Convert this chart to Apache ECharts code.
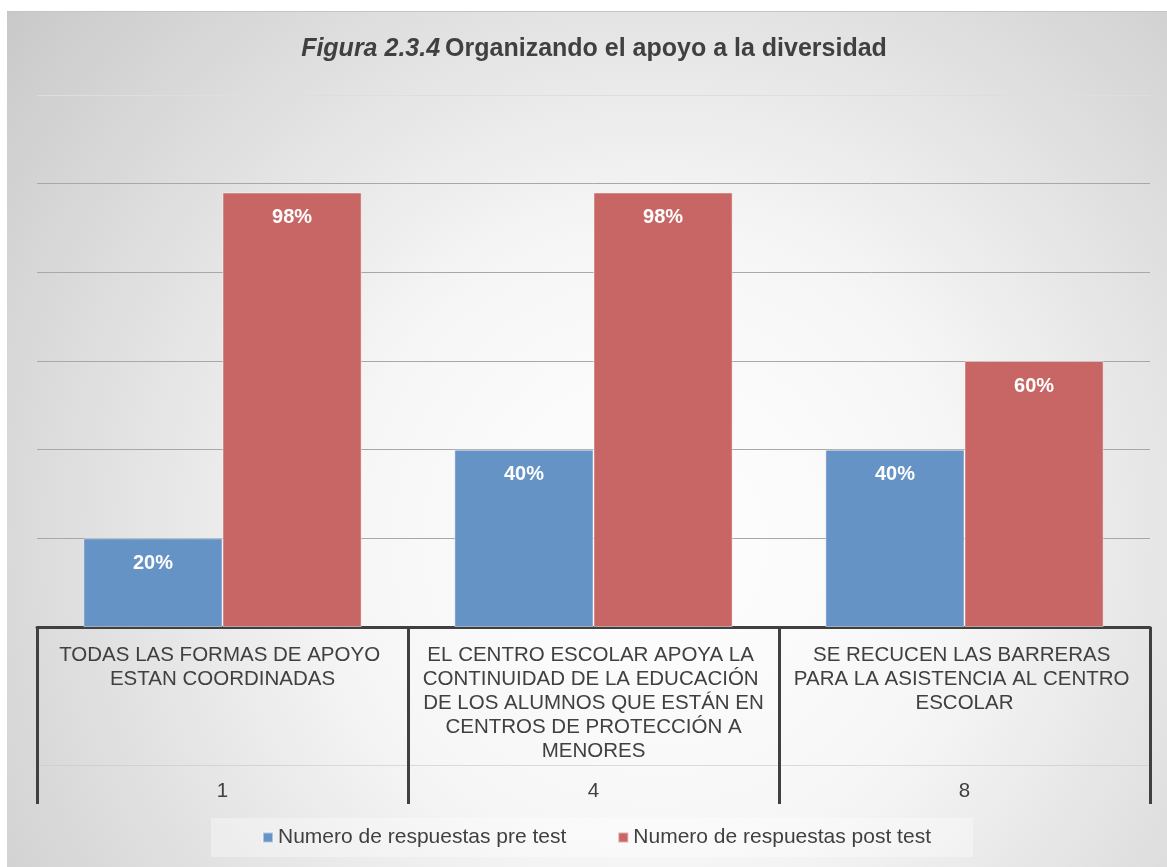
<!DOCTYPE html>
<html>
<head>
<meta charset="utf-8">
<script src="https://cdn.jsdelivr.net/npm/echarts@6/dist/echarts.min.js"></script>
<style>
  html, body { margin: 0; padding: 0; background: #fff; }
  #chart { position: absolute; left: 7px; top: 11px; width: 1160px; height: 856px; border-top: 1px solid #c4c4c4; box-sizing: border-box; }
</style>
</head>
<body>
<div id="chart"></div>
<script>
// categorias (nivel 1) y codigo de pregunta (nivel 2)
var categorias = [
  "TODAS LAS FORMAS DE APOYO ESTAN COORDINADAS",
  "EL CENTRO ESCOLAR APOYA LA CONTINUIDAD DE LA EDUCACIÓN DE LOS ALUMNOS QUE ESTÁN EN CENTROS DE PROTECCIÓN A MENORES",
  "SE RECUCEN LAS BARRERAS PARA LA ASISTENCIA AL CENTRO ESCOLAR"
];
var codigos = ["1", "4", "8"];
var nombresSeries = ["Numero de respuestas pre test", "Numero de respuestas post test"];
var preTest = [20, 40, 40];
var postTest = [98, 98, 60];

var chart = echarts.init(document.getElementById("chart"));
var textColor = "#404040";

var option = {
  backgroundColor: {
    type: "radial", x: 0.56, y: 0.62, r: 1.05,
    colorStops: [
      { offset: 0, color: "#ffffff" },
      { offset: 0.35, color: "#f6f6f6" },
      { offset: 1, color: "#c4c4c4" }
    ]
  },
  animation: false,
  title: {
    text: "{i|Figura 2.3.4} {b|Organizando el apoyo a la diversidad}",
    left: 582,
    textAlign: "center",
    top: 20,
    textStyle: {
      rich: {
        i: { fontFamily: "Liberation Sans", fontSize: 25, fontStyle: "italic", fontWeight: "bold", color: textColor },
        b: { fontFamily: "Liberation Sans", fontSize: 25, fontWeight: "bold", color: textColor }
      }
    }
  },
  legend: {
    data: nombresSeries,
    bottom: 10,
    left: 204,
    icon: "rect",
    itemWidth: 10,
    itemHeight: 10,
    itemGap: 51,
    padding: [9, 42, 9, 51],
    backgroundColor: "rgba(255,255,255,0.35)",
    textStyle: { fontFamily: "Liberation Sans", fontSize: 21, color: textColor }
  },
  grid: { left: 30, right: 17, top: 83, bottom: 240, containLabel: false },
  xAxis: [
    {
      type: "category",
      data: categorias,
      axisLine: { lineStyle: { color: textColor, width: 3 } },
      axisTick: { show: true, interval: 0, length: 177, lineStyle: { color: textColor, width: 3 } },
      axisLabel: {
        interval: 0,
        width: 350,
        overflow: "break",
        margin: 16,
        fontFamily: "Liberation Sans",
        fontSize: 20.5,
        lineHeight: 24,
        color: textColor,
        verticalAlign: "top"
      }
    },
    {
      type: "category",
      position: "bottom",
      offset: 138,
      data: codigos,
      axisLine: { show: true, lineStyle: { color: "rgba(200,200,200,0.6)", width: 1 } },
      axisTick: { show: false },
      axisLabel: { interval: 0, margin: 16, fontFamily: "Liberation Sans", fontSize: 20.5, color: textColor }
    }
  ],
  yAxis: {
    type: "value",
    min: 0,
    max: 120,
    interval: 20,
    axisLabel: { show: false },
    axisLine: { show: false },
    axisTick: { show: false },
    splitLine: {
      lineStyle: { color: ["#a8a8a8", "#a8a8a8", "#a8a8a8", "#a8a8a8", "#a8a8a8", "#a8a8a8", "#dedede"], width: 1 }
    }
  },
  series: [
    {
      name: nombresSeries[0],
      type: "bar",
      data: preTest,
      barGap: "0%",
      barCategoryGap: "25%",
      itemStyle: { color: "#6693c6", borderColor: "rgba(255,255,255,0.45)", borderWidth: 1 },
      label: {
        show: true, position: "insideTop", distance: 15,
        formatter: "{c}%",
        fontFamily: "Liberation Sans", fontSize: 20, fontWeight: "bold", color: "#fff"
      }
    },
    {
      name: nombresSeries[1],
      type: "bar",
      data: postTest,
      itemStyle: { color: "#c86665", borderColor: "rgba(255,255,255,0.45)", borderWidth: 1 },
      label: {
        show: true, position: "insideTop", distance: 15,
        formatter: "{c}%",
        fontFamily: "Liberation Sans", fontSize: 20, fontWeight: "bold", color: "#fff"
      }
    }
  ]
};

chart.setOption(option);
</script>
</body>
</html>
